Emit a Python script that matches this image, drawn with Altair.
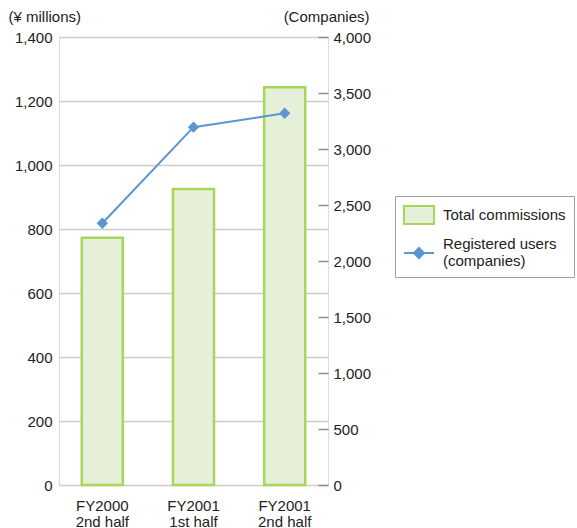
import altair as alt
import pandas as pd

periods = ["FY2000|2nd half", "FY2001|1st half", "FY2001|2nd half"]
commissions = [773, 925, 1243]
users = [2337, 3195, 3319]
series_names = ["Total commissions", "Registered users|(companies)"]
left_ticks = [0, 200, 400, 600, 800, 1000, 1200, 1400]
right_ticks = [0, 500, 1000, 1500, 2000, 2500, 3000, 3500, 4000]

FONT = "Liberation Sans"
TXT = "#222222"
BAR_FILL = "#e6f0d9"
BAR_STROKE = "#a6d65a"
LINE = "#5b96d0"

df = pd.DataFrame({"period": periods, "commissions": commissions, "users": users})
leg_df = pd.DataFrame({"series": series_names})

x_enc = alt.X(
    "period:N",
    sort=periods,
    scale=alt.Scale(paddingInner=0.55, paddingOuter=0.25),
    axis=alt.Axis(
        title=None, labelAngle=0, ticks=False, domain=False,
        labelExpr="split(datum.label, '|')", labelLineHeight=16,
        labelPadding=13, labelFontSize=15, labelFont=FONT, labelColor=TXT,
        labelBaseline="top",
    ),
)

bars = alt.Chart(df).mark_bar(
    fill=BAR_FILL, stroke=BAR_STROKE, strokeWidth=2.5
).encode(
    x=x_enc,
    y=alt.Y(
        "commissions:Q",
        scale=alt.Scale(domain=[0, 1400], nice=False),
        axis=alt.Axis(
            title="(¥ millions)", titleAngle=0, titleAlign="left",
            titleBaseline="alphabetic", titleX=-51, titleY=-16,
            titleFont=FONT, titleFontSize=15, titleFontWeight="normal", titleColor=TXT,
            values=left_ticks, format=",d", ticks=False, domain=False,
            labelPadding=7, labelFont=FONT, labelFontSize=15, labelColor=TXT,
            grid=True, gridColor="#cccccc", gridWidth=1.5,
        ),
    ),
)

line = alt.Chart(df).mark_line(
    color=LINE, strokeWidth=2,
    point=alt.OverlayMarkDef(shape="diamond", size=130, filled=True, color=LINE, opacity=1),
).encode(
    x=alt.X("period:N", sort=periods),
    y=alt.Y(
        "users:Q",
        scale=alt.Scale(domain=[0, 4000], nice=False),
        axis=alt.Axis(
            orient="right", title="(Companies)", titleAngle=0, titleAlign="right",
            titleBaseline="alphabetic", titleX=51, titleY=-16,
            titleFont=FONT, titleFontSize=15, titleFontWeight="normal", titleColor=TXT,
            values=right_ticks, format=",d", offset=-10, domain=False,
            ticks=True, tickSize=10, tickColor="#8f8f8f", tickWidth=1.5,
            labelPadding=5, labelFont=FONT, labelFontSize=15, labelColor=TXT,
            grid=False,
        ),
    ),
)

rect_path = "M-1.5,-0.9H1.5V0.9H-1.5Z"
line_path = "M-1.5,0.9H1.5M0,0.4L0.5,0.9L0,1.4L-0.5,0.9Z"

legend = alt.Legend(
    title=None, orient="none", legendX=336, legendY=159,
    padding=8, symbolSize=400, symbolStrokeWidth=2, symbolOffset=5,
    labelOffset=13, rowPadding=5,
    labelExpr="split(datum.label, '|')",
    labelFont=FONT, labelFontSize=15, labelColor=TXT, labelLimit=300,
    strokeColor="#a0a0a0", fillColor="white",
)

leg_layer = alt.Chart(leg_df).mark_point(filled=True, opacity=1).encode(
    fill=alt.Fill("series:N", scale=alt.Scale(domain=series_names, range=[BAR_FILL, LINE]), legend=legend),
    stroke=alt.Stroke("series:N", scale=alt.Scale(domain=series_names, range=[BAR_STROKE, LINE]), legend=legend),
    shape=alt.Shape("series:N", scale=alt.Scale(domain=series_names, range=[rect_path, line_path]), legend=legend),
).transform_filter("false")

chart = alt.layer(bars, line, leg_layer).resolve_scale(
    y="independent"
).properties(
    width=269, height=448,
    autosize=alt.AutoSizeParams(type="none"),
    padding={"left": 59, "top": 37, "right": 249, "bottom": 43},
).configure_view(
    stroke="#8f8f8f", strokeWidth=2
).configure(background="white")

chart.save("out.html", embed_options={"renderer": "svg", "actions": False})
